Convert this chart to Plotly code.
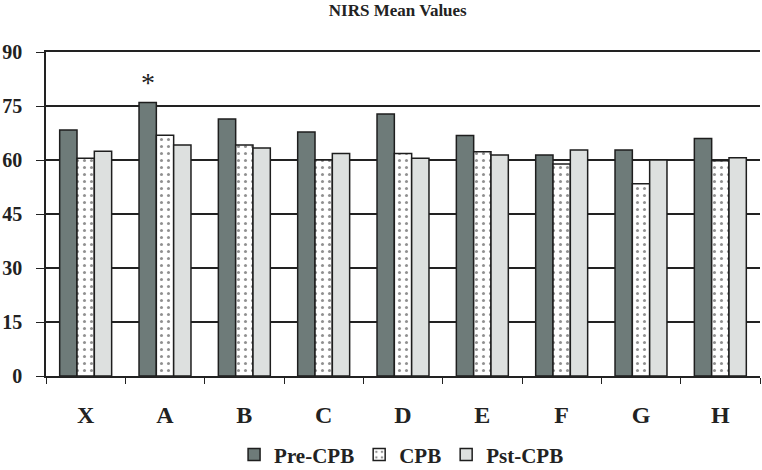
import plotly.graph_objects as go

categories = ["X", "A", "B", "C", "D", "E", "F", "G", "H"]
pre_cpb = [68.3, 76.0, 71.4, 67.8, 72.8, 66.8, 61.4, 62.8, 66.0]
cpb = [60.5, 66.9, 64.2, 60.0, 61.8, 62.3, 58.9, 53.4, 59.8]
pst_cpb = [62.4, 64.2, 63.3, 61.8, 60.5, 61.4, 62.8, 60.0, 60.6]
y_ticks = [0, 15, 30, 45, 60, 75, 90]

FONT = "Liberation Serif"
INK = "#222222"
line = dict(color="#1e1e1e", width=1.5)

fig = go.Figure()
fig.add_trace(go.Bar(x=categories, y=pre_cpb, name="Pre-CPB",
                     marker=dict(color="#6e7b79", line=line)))
fig.add_trace(go.Bar(x=categories, y=cpb, name="CPB",
                     marker=dict(color="white", line=line,
                                 pattern=dict(shape=".", fgcolor=INK, bgcolor="white",
                                              size=7, solidity=0.15))))
fig.add_trace(go.Bar(x=categories, y=pst_cpb, name="Pst-CPB",
                     marker=dict(color="#dde0df", line=line)))

fig.add_annotation(x="A", y=81.5, text="*", showarrow=False, xshift=-17,
                   font=dict(family=FONT, size=28, color=INK))

fig.update_layout(
    width=762, height=470,
    margin=dict(l=46, r=2, t=52, b=94, autoexpand=False),
    paper_bgcolor="white", plot_bgcolor="white",
    barmode="group", bargap=0.345, bargroupgap=0,
    title=dict(text="<b>NIRS Mean Values</b>", x=0.522, xanchor="center",
               y=0.978, yanchor="middle", yref="container",
               font=dict(family=FONT, size=17, color=INK)),
    legend=dict(orientation="h", x=0.527, xanchor="center", xref="container",
                y=0.032, yanchor="middle", yref="container",
                font=dict(family=FONT, size=21, color=INK, weight="bold"),
                itemwidth=30, traceorder="normal"),
    showlegend=True,
    font=dict(family=FONT, color=INK),
)
fig.update_xaxes(
    type="category", tickson="boundaries", ticks="outside", ticklen=6,
    tickcolor=INK, showline=True, linecolor=INK, linewidth=1.5,
    mirror=True, automargin=False,
    showgrid=False, tickfont=dict(family=FONT, size=24, color=INK, weight="bold"),
    ticklabelstandoff=16,
)
fig.update_yaxes(
    range=[0, 90], tickvals=y_ticks, ticktext=[str(v) for v in y_ticks],
    ticks="outside", ticklen=8, tickcolor=INK, automargin=False,
    showline=True, linecolor=INK, linewidth=1.5,
    showgrid=True, gridcolor=INK, gridwidth=1.5,
    zeroline=False, tickfont=dict(family=FONT, size=20, color=INK, weight="bold"),
    ticklabelstandoff=10,
)

fig.write_html("out.html", config={"displayModeBar": False},
               post_script="document.body.style.margin='0px';")
